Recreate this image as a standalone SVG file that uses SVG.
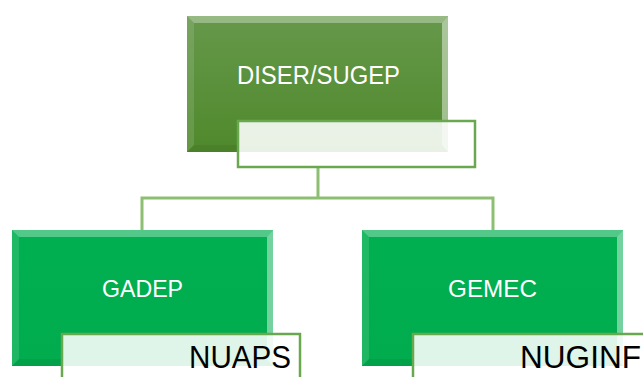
<svg xmlns="http://www.w3.org/2000/svg" width="643" height="377" viewBox="0 0 643 377">
  <style>
    .lbl { font-family: "Liberation Sans", Arial, sans-serif; fill: #ffffff; text-anchor: middle; }
    .sub { font-family: "Liberation Sans", Arial, sans-serif; fill: #000000; text-anchor: end; font-size: 31px; }
    .conn { fill: none; stroke: #8dbf72; stroke-width: 3; }
    .tag { fill: #ffffff; fill-opacity: 0.88; stroke: #6aa84f; stroke-width: 2.5; }
    .bt { fill: #ffffff; fill-opacity: 0.32; }
    .bl { fill: #ffffff; fill-opacity: 0.12; }
    .br { fill: #ffffff; fill-opacity: 0.45; }
    .bb { fill: #000000; fill-opacity: 0.06; }
  </style>
  <defs>
    <linearGradient id="gTop" x1="0" y1="0" x2="0" y2="1">
      <stop offset="0" stop-color="#66984a"/>
      <stop offset="1" stop-color="#4f892c"/>
    </linearGradient>
    <linearGradient id="gSub" x1="0" y1="0" x2="0" y2="1">
      <stop offset="0" stop-color="#00b050"/>
      <stop offset="1" stop-color="#00ac4e"/>
    </linearGradient>
  </defs>

  <!-- connectors -->
  <g id="connectors">
    <path class="conn" d="M318,167 V198 M142,198 H493 M142,196.5 V231 M493,196.5 V231"/>
  </g>

  <!-- root node -->
  <g id="node-diser">
    <rect x="187" y="16" width="261" height="136" fill="url(#gTop)"/>
    <polygon class="bt" points="187,16 448,16 442,23 194,23"/>
    <polygon class="bl" points="187,16 194,23 194,145 187,152"/>
    <polygon class="br" points="448,16 448,152 442,145 442,23"/>
    <polygon class="bb" points="187,152 194,145 442,145 448,152"/>
    <text class="lbl" x="318.5" y="84" font-size="26" textLength="163" lengthAdjust="spacingAndGlyphs">DISER/SUGEP</text>
    <rect class="tag" x="238" y="121" width="237" height="46"/>
  </g>

  <!-- left child -->
  <g id="node-gadep">
    <rect x="12" y="230" width="261" height="136" fill="url(#gSub)"/>
    <polygon class="bt" points="12,230 273,230 267,237 19,237"/>
    <polygon class="bl" points="12,230 19,237 19,359 12,366"/>
    <polygon class="br" points="273,230 273,366 267,359 267,237"/>
    <polygon class="bb" points="12,366 19,359 267,359 273,366"/>
    <text class="lbl" x="142.5" y="297" font-size="24" textLength="81" lengthAdjust="spacingAndGlyphs">GADEP</text>
    <rect class="tag" x="62" y="334" width="238" height="50"/>
    <text class="sub" x="291" y="368" textLength="102" lengthAdjust="spacingAndGlyphs">NUAPS</text>
  </g>

  <!-- right child -->
  <g id="node-gemec">
    <rect x="362" y="230" width="261" height="136" fill="url(#gSub)"/>
    <polygon class="bt" points="362,230 623,230 617,237 369,237"/>
    <polygon class="bl" points="362,230 369,237 369,359 362,366"/>
    <polygon class="br" points="623,230 623,366 617,359 617,237"/>
    <polygon class="bb" points="362,366 369,359 617,359 623,366"/>
    <text class="lbl" x="492.5" y="297" font-size="24" textLength="89" lengthAdjust="spacingAndGlyphs">GEMEC</text>
    <rect class="tag" x="413" y="334" width="250" height="50"/>
    <text class="sub" x="641" y="368" textLength="121" lengthAdjust="spacingAndGlyphs">NUGINF</text>
  </g>
</svg>
